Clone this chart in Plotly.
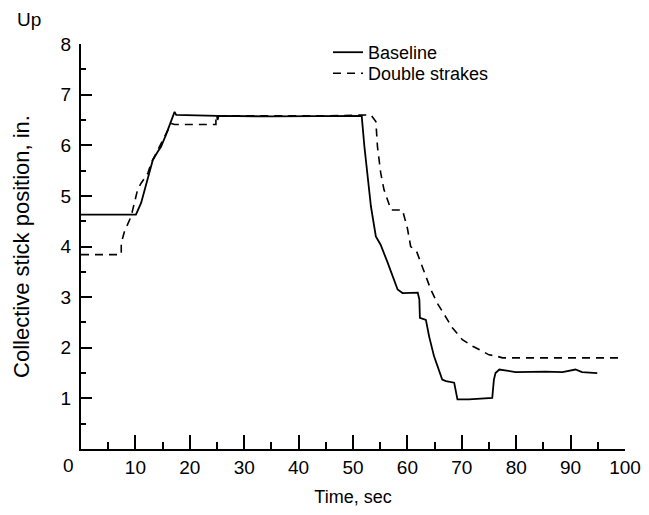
import plotly.graph_objects as go

# Baseline (solid) trace
base_t = [0, 10.1, 11.05, 12.0, 13.2, 14.1, 14.7, 15.6, 16.6, 17.2, 17.5, 25.0, 25.1, 25.3,
          35, 45, 51.6, 52.1, 52.7, 53.3, 54.2, 55.1, 56.3, 57.3, 58.2, 59.1, 61.9, 62.2, 62.3,
          63.4, 64.0, 64.9, 65.8, 66.4, 67.1, 68.6, 69.2, 71.3, 75.6, 75.9, 76.2, 76.9, 79.9,
          85.4, 88.5, 90.9, 92.1, 94.9]
base_y = [4.63, 4.63, 4.86, 5.25, 5.71, 5.87, 5.97, 6.2, 6.47, 6.66, 6.6, 6.58, 6.5, 6.58,
          6.57, 6.57, 6.58, 5.97, 5.32, 4.79, 4.2, 4.03, 3.7, 3.41, 3.15, 3.08, 3.09, 2.95, 2.59,
          2.55, 2.22, 1.83, 1.57, 1.37, 1.34, 1.31, 0.98, 0.98, 1.01, 1.37, 1.5, 1.57, 1.52,
          1.53, 1.52, 1.57, 1.52, 1.5]

# Double strakes (dashed) trace
ds_t = [0, 7.4, 7.4, 8.0, 9.2, 10.4, 11.05, 12.3, 12.9, 14.4, 15.6, 16.6, 17.2, 24.8, 24.8,
        35, 45, 53.3, 54.2, 54.5, 55.1, 55.7, 56.7, 57.0, 59.1, 60.0, 60.6, 61.7, 62.5, 63.4,
        64.3, 65.5, 66.8, 68.3, 70.1, 72.0, 73.8, 75.0, 76.2, 77.5, 99.5]
ds_y = [3.84, 3.84, 4.07, 4.3, 4.59, 5.12, 5.25, 5.45, 5.65, 5.97, 6.2, 6.43, 6.41, 6.41, 6.58,
        6.58, 6.58, 6.6, 6.47, 5.97, 5.45, 5.12, 4.79, 4.72, 4.72, 4.36, 4.0, 3.9, 3.67, 3.41,
        3.15, 2.88, 2.65, 2.39, 2.16, 2.03, 1.93, 1.86, 1.84, 1.8, 1.8]

series_names = ["Baseline", "Double strakes"]
x_ticks = list(range(0, 101, 10))
x_ticktext = [""] + [str(v) for v in x_ticks[1:]]
y_ticks = list(range(1, 9))

FONT = "Liberation Sans, Arial, Helvetica, sans-serif"

# page layout (the page body has an 8px margin, so the figure is sized to fit without scrolling)
W, H = 633, 499
PL, PT = 73, 36          # plot left / top inside the figure
PW, PH = 544, 405.5      # plot width / height
OFF = 8


def px_x(page_x):
    return (page_x - OFF - PL) / PW


def px_y(page_y):
    return (PT + PH - (page_y - OFF)) / PH


fig = go.Figure()
fig.add_trace(go.Scatter(x=base_t, y=base_y, mode="lines", name=series_names[0],
                         legend="legend",
                         line=dict(color="black", width=1.8)))
fig.add_trace(go.Scatter(x=ds_t, y=ds_y, mode="lines", name=series_names[1],
                         legend="legend2",
                         line=dict(color="black", width=1.6, dash="8px,6px")))

leg_common = dict(xanchor="left", yanchor="top", bgcolor="rgba(0,0,0,0)",
                  font=dict(size=18), itemwidth=30)

fig.update_layout(
    width=W, height=H,
    margin=dict(l=PL, r=W - PL - PW, t=PT, b=H - PT - PH, autoexpand=False),
    paper_bgcolor="white", plot_bgcolor="white",
    font=dict(family=FONT, size=19, color="black"),
    showlegend=True,
    legend=dict(x=px_x(328), y=px_y(34), **leg_common),
    legend2=dict(x=px_x(328), y=px_y(55), **leg_common),
    xaxis=dict(range=[0, 100], tickvals=x_ticks, ticktext=x_ticktext, automargin=False,
               showgrid=False, zeroline=False, showline=True, linecolor="black", linewidth=2,
               ticks="inside", ticklen=14, tickwidth=1.5, tickcolor="black",
               minor=dict(ticks="inside", dtick=5, ticklen=7, tickwidth=1.5, tickcolor="black"),
               title=dict(text="Time, sec", standoff=14, font=dict(size=18))),
    yaxis=dict(range=[0, 8], tickvals=y_ticks, automargin=False,
               showgrid=False, zeroline=False, showline=True, linecolor="black", linewidth=2,
               ticks="inside", ticklen=11, tickwidth=1.5, tickcolor="black",
               ticklabelstandoff=4,
               minor=dict(ticks="inside", dtick=0.5, ticklen=5, tickwidth=1.5, tickcolor="black"),
               title=dict(text="Collective stick position, in.", standoff=25, font=dict(size=22))),
    annotations=[
        dict(text="Up", xref="paper", yref="paper", x=px_x(29), y=px_y(19),
             showarrow=False, xanchor="center", yanchor="middle", font=dict(size=19)),
        dict(text="0", xref="paper", yref="paper", x=px_x(68), y=px_y(466),
             showarrow=False, xanchor="center", yanchor="middle", font=dict(size=19)),
    ],
)

fig.write_html("out.html")
